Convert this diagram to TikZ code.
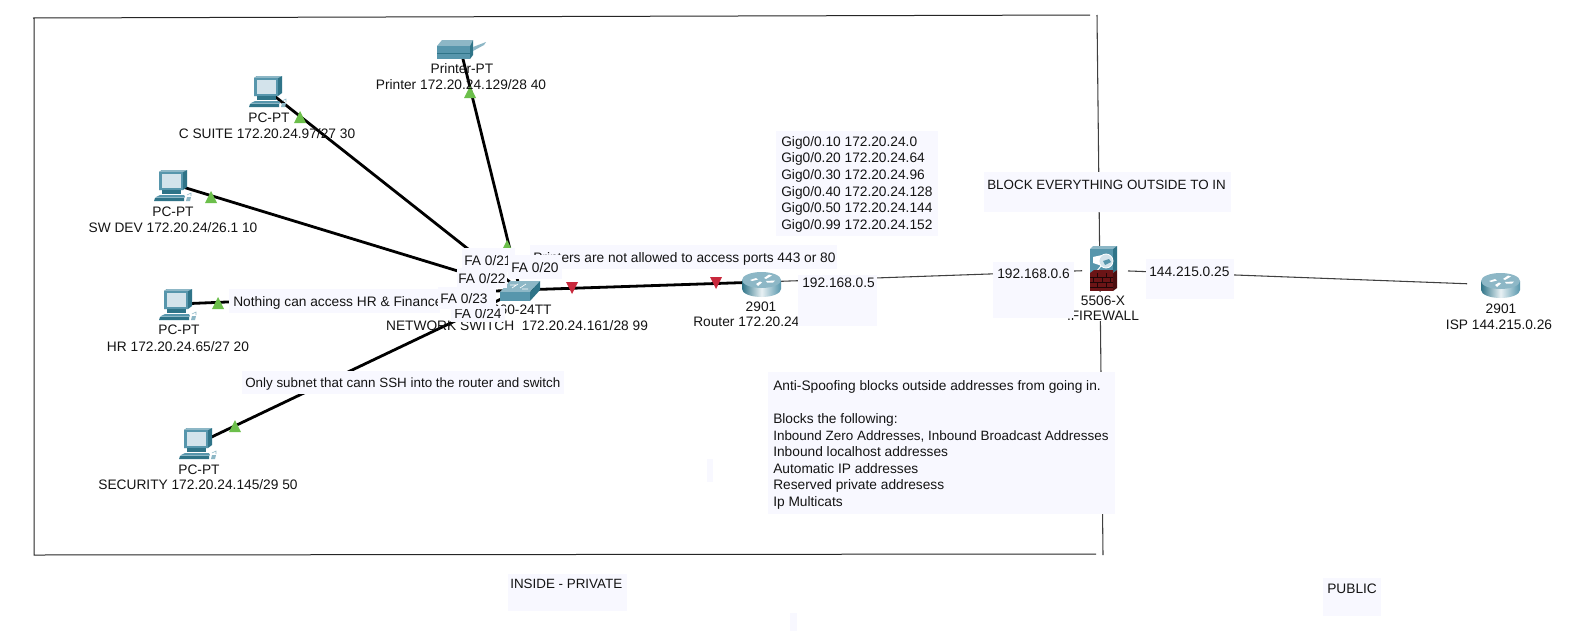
\documentclass[tikz,border=0pt]{standalone}
\usepackage{fontspec}
\setmainfont{Liberation Sans}
\definecolor{notebg}{HTML}{F8F8FF}
\definecolor{tealm}{HTML}{5796AC}
\definecolor{teald}{HTML}{2F7488}
\definecolor{teall}{HTML}{8DB7C6}
\definecolor{screenc}{HTML}{D3E3EB}
\definecolor{brick}{HTML}{6B1416}
\definecolor{grn}{HTML}{6CBF4B}
\definecolor{redm}{HTML}{C8283C}
\tikzset{
  lbl/.style={inner sep=0pt,text height=11*0.75pt,text depth=0pt,font=\fontsize{10.3}{12}\selectfont,text=black!92},
  lblw/.style={lbl,anchor=west},
  lbltight/.style={lblw,font=\fontsize{10.05}{12}\selectfont},
  block/.style={inner sep=0pt,anchor=north west,align=left,font=\fontsize{10.3}{12.45}\selectfont,text=black!92},
  notefill/.style={fill=notebg,draw=none},
  copper/.style={draw=black,line width=2.1pt},
  thinlink/.style={draw=black!75,line width=0.8pt},
  framel/.style={draw=black!85,line width=0.75pt},
  uptri/.style={fill=grn,draw=none},
  downtri/.style={fill=redm,draw=none},
  pcicon/.pic={
    \fill[teald] (5,2)--(8,0)--(33,0)--(33,17)--(29,20)--(5,20)--cycle;
    \fill[teall] (5,2)--(8,0)--(33,0)--(29,2)--cycle;
    \fill[tealm] (5,2) rectangle (29,20);
    \fill[screenc] (7.5,4) rectangle (27,18);
    \fill[teald] (8,20) rectangle (27,24);
    \fill[tealm] (6,25)--(30,25)--(31,27)--(2,27)--cycle;
    \fill[teall] (2,27)--(31,27)--(30,28)--(1,28)--cycle;
    \fill[teald] (0,31)--(1,28)--(30,28)--(30,31)--cycle;
    \fill[teall] (32,31)--(33,27)--(37,27)--(36,31)--cycle;
    \draw[teall,line width=0.4pt] (33,25)--(37,23)--(37,26);
  },
  routericon/.pic={
    \shade[left color=teald,right color=tealm,middle color=white!80!teall]
      (0,8) -- (0,17) arc[start angle=180,end angle=0,x radius=19.5,y radius=8] -- (39,8) -- cycle;
    \fill[teall] (19.5,8) ellipse[x radius=19.5,y radius=8];
    \fill[white] (8,8)--(14,6)--(16,7.5)--(10,9)--cycle;
    \fill[white] (22,6)--(27,2.5)--(30,3.5)--(24,7)--cycle;
    \fill[white] (24,9)--(33,8.5)--(31,10.5)--(25,10.5)--cycle;
    \fill[white] (14,12)--(18,9.5)--(20,10.5)--(16,14)--cycle;
  },
  switchicon/.pic={
    \fill[teall] (0,12)--(10,1)--(40,1)--(30,12)--cycle;
    \fill[tealm] (0,12) rectangle (30,21);
    \fill[teald] (30,12)--(40,1)--(40,10)--(30,21)--cycle;
    \draw[white,line width=0.5pt] (12,8)--(18,4) (20,8)--(26,4) (10,5)--(16,5) (22,9)--(28,9);
  },
  printericon/.pic={
    \fill[teall] (0,6)--(5,0)--(36,0)--(33,6)--cycle;
    \fill[tealm] (0,6) rectangle (33,19);
    \fill[teald] (0,13) rectangle (33,14);
    \fill[teald] (33,6)--(36,0)--(36,15)--(33,19)--cycle;
    \fill[teall] (36,7)--(49,2)--(47,5)--(36,11)--cycle;
  },
  fwicon/.pic={
    \fill[teall] (0,3)--(3,0)--(27,0)--(23,3)--cycle;
    \fill[tealm] (0,3) rectangle (23,27);
    \fill[teald] (23,3)--(27,0)--(27,24)--(23,27)--cycle;
    \fill[white] (3,11)--(12,9)--(12,20)--(3,17)--cycle;
    \fill[screenc] (16,15) circle[radius=7];
    \fill[tealm] (13,15)--(19,13)--(21,16)--(15,19)--cycle;
    \draw[white,line width=0.6pt] (16,15) circle[radius=7];
    \draw[white,line width=0.7pt] (11,20)--(6,26);
    \fill[brick] (0,27) rectangle (23,45);
    \fill[brick!70!black] (23,27)--(27,24)--(27,42)--(23,45)--cycle;
    \fill[brick] (0,27)--(4,24)--(23,24)--(23,27)--cycle;
    \draw[black!70!brick,line width=0.3pt] (0,31)--(23,31) (0,36)--(23,36) (0,41)--(23,41) (7,27)--(7,31) (16,27)--(16,31) (3,31)--(3,36) (12,31)--(12,36) (20,31)--(20,36) (7,36)--(7,41) (16,36)--(16,41);
  },
}
\newcommand{\notebox}[4]{\fill[notefill] (#1,#2) rectangle (#3,#4);}
\newcommand{\uptriangle}[2]{\fill[uptri] (#1-6,#2+6)--(#1+6,#2+6)--(#1,#2-6)--cycle;}
\newcommand{\downtriangle}[2]{\fill[downtri] (#1-6,#2-6)--(#1+6,#2-6)--(#1,#2+6)--cycle;}
\begin{document}
\begin{tikzpicture}[x=0.75pt,y=-0.75pt]
\useasboundingbox[fill=white] (0,0) rectangle (1576,632);
% anchors of the connectors
\coordinate (pc1) at (268,91);
\coordinate (pc2) at (173,184);
\coordinate (pc3) at (178,304);
\coordinate (pc4) at (199,443);
\coordinate (prn) at (462,55);
\coordinate (sw) at (520,290);
\coordinate (r1) at (761,282);
\coordinate (fw) at (1103,270);
\coordinate (isp) at (1500,285);
\coordinate (ftl) at (33,18);
\coordinate (ftr) at (1090,15);
\coordinate (fbl) at (34,555);
\coordinate (fbr) at (1096,554);
\coordinate (vt) at (1097,15);
\coordinate (vb) at (1103,555);
% frame
\draw[framel] (ftr) -- (ftl) (ftl -| fbl) -- (fbl) -- (fbr);
\draw[thinlink] (vt) -- (vb);
% links
\draw[copper] (pc1) -- (sw);
\draw[copper] (pc2) -- (sw);
\draw[copper] (pc3) -- (sw);
\draw[copper] (pc4) -- (sw);
\draw[copper] (prn) -- (sw);
\draw[copper] (sw) -- (r1);
\draw[thinlink,shorten >=21*0.75pt] (r1) -- (fw);
\draw[thinlink,shorten <=25*0.75pt,shorten >=33*0.75pt] (fw) -- (isp);
% link lights
\uptriangle{470}{92}
\uptriangle{300}{117}
\uptriangle{211}{197}
\uptriangle{218}{303}
\uptriangle{235}{426}
\uptriangle{507}{246}
\downtriangle{572}{288}
\downtriangle{716}{283}
% devices
\pic at (249,76) {pcicon};
\pic at (154,170) {pcicon};
\pic at (159,289) {pcicon};
\pic at (179,428) {pcicon};
\pic at (437,40) {printericon};
\pic at (500,280) {switchicon};
\pic at (742,272) {routericon};
\pic at (1090,246) {fwicon};
\pic at (1481,273) {routericon};
% device labels
\node[lbl] (lp1) at (269,117) {PC-PT};
\node[lbl] (lp1b) at (267,133) {C SUITE 172.20.24.97/27 30};
\node[lbl] (lp2) at (173,211) {PC-PT};
\node[lbl] (lp2b) at (173,227) {SW DEV 172.20.24/26.1 10};
\node[lbl] (lp3) at (179,329) {PC-PT};
\node[lbl] (lp3b) at (178,346) {HR 172.20.24.65/27 20};
\node[lbl] (lp4) at (199,469) {PC-PT};
\node[lbl] (lp4b) at (198,484) {SECURITY 172.20.24.145/29 50};
\node[lbl] (lpr) at (462,68) {Printer-PT};
\node[lbl] (lprb) at (461,84) {Printer 172.20.24.129/28 40};
\node[lbl] (lsw) at (518,309) {2960-24TT};
\node[lbl] (lswb) at (517,325) {NETWORK SWITCH\ \ 172.20.24.161/28 99};
\node[lbl] (lr) at (761,306) {2901};
\node[lblw] (lrb) at (693,321) {Router 172.20.24};
\fill[white] (1085,292) rectangle (1125,321);
\node[lbl] (lf) at (1103,300) {5506-X};
\node[lbl] (lfb) at (1103,315) {.FIREWALL};
\node[lbl] (li) at (1501,308) {2901};
\node[lbl] (lib) at (1499,324) {ISP 144.215.0.26};
% notes
\notebox{776}{131}{938}{236}
\node[block] (gig) at (781,136) {Gig0/0.10 172.20.24.0\\Gig0/0.20 172.20.24.64\\Gig0/0.30 172.20.24.96\\Gig0/0.40 172.20.24.128\\Gig0/0.50 172.20.24.144\\Gig0/0.99 172.20.24.152};
\notebox{984}{172}{1231}{212}
\node[lbltight] (blk) at (987,184) {BLOCK EVERYTHING OUTSIDE TO IN};
\notebox{993}{262}{1074}{318}
\node[lblw] (ip6) at (997,273) {192.168.0.6};
\notebox{1146}{259}{1234}{299}
\node[lblw] (ip25) at (1149,271) {144.215.0.25};
\notebox{798}{275}{877}{326}
\node[lblw] (ip5) at (802,282) {192.168.0.5};
\notebox{530}{245}{837}{269}
\node[lblw] (npr) at (533,257) {Printers are not allowed to access ports 443 or 80};
\notebox{229}{289}{440}{313}
\node[lblw] (nhr) at (233,301) {Nothing can access HR \& Finance};
\notebox{242}{371}{564}{394}
\node[lbltight] (nsec) at (245,382) {Only subnet that cann SSH into the router and switch};
\notebox{462}{248}{515}{272}
\node[lblw] (fa21) at (464,260) {FA 0/21};
\notebox{457}{268}{507}{288}
\node[lblw] (fa22) at (458,278) {FA 0/22};
\notebox{508}{255}{562}{279}
\node[lblw] (fa20) at (511,267) {FA 0/20};
\notebox{451}{306}{505}{322}
\node[lblw] (fa24) at (454,313) {FA 0/24};
\notebox{438}{287}{496}{309}
\node[lblw] (fa23) at (440,298) {FA 0/23};
\notebox{768}{372}{1115}{514}
\node[block] (anti) at (773,380) {Anti-Spoofing blocks outside addresses from going in.\\[12.45pt]Blocks the following:\\{\fontsize{10.1}{12.45}\selectfont Inbound Zero Addresses, Inbound Broadcast Addresses}\\Inbound localhost addresses\\Automatic IP addresses\\Reserved private addresess\\Ip Multicats};
\notebox{508}{574}{627}{611}
\node[lbltight] (inp) at (510,583) {INSIDE - PRIVATE};
\notebox{1323}{578}{1381}{616}
\node[lblw] (pub) at (1327,588) {PUBLIC};
\notebox{707}{459}{713}{482}
\notebox{790}{613}{797}{631}
\end{tikzpicture}
\end{document}
